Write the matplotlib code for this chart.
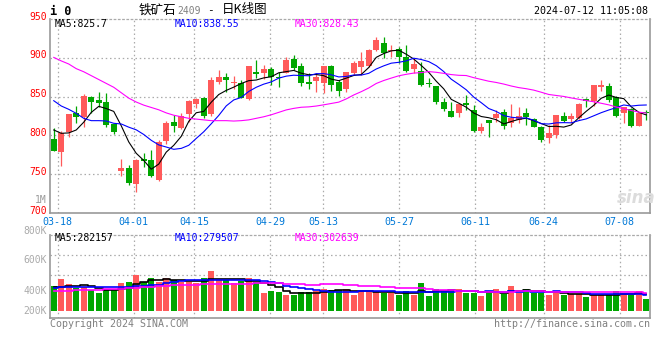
import numpy as np
import pandas as pd
import matplotlib
matplotlib.use("Agg")
import matplotlib.pyplot as plt
from matplotlib.transforms import blended_transform_factory, offset_copy

# ---------------- data ----------------
opens = [795.4, 779.2, 804.9, 829.3, 824.2, 849.9, 845.6, 843.0, 814.3, 753.5,
         758.6, 737.2, 770.2, 768.4, 742.7, 793.3, 817.3, 810.0, 827.6, 840.4,
         848.2, 828.0, 868.3, 875.0, 867.5, 867.9, 846.9, 882.0, 880.7, 885.0,
         874.9, 880.7, 898.3, 889.3, 868.7, 870.4, 867.0, 889.3, 869.1, 859.7,
         879.9, 888.4, 889.3, 909.9, 919.7, 909.4, 910.7, 901.3, 885.4, 883.3,
         867.9, 863.6, 843.4, 831.4, 829.3, 842.2, 832.7, 806.2, 819.9, 822.0,
         830.6, 815.6, 819.9, 829.3, 820.7, 811.3, 796.3, 800.6, 825.0, 820.7,
         822.0, 846.4, 844.3, 862.7, 863.6, 849.9, 828.4, 833.6, 812.2, 830.6]
closes = [780.4, 802.7, 827.6, 823.3, 851.2, 843.4, 841.7, 813.4, 804.9, 758.6,
          739.3, 768.4, 767.6, 748.3, 791.6, 816.4, 812.2, 825.4, 844.7, 847.3,
          825.0, 871.3, 875.1, 871.3, 868.3, 848.6, 889.3, 879.4, 885.0, 875.6,
          874.0, 897.0, 887.1, 867.0, 865.7, 875.6, 889.3, 864.9, 857.2, 882.0,
          892.7, 895.7, 909.9, 922.7, 906.4, 910.0, 900.4, 883.3, 891.9, 864.9,
          865.7, 843.4, 834.0, 824.2, 840.4, 839.6, 806.2, 811.3, 816.4, 827.6,
          812.2, 822.0, 825.0, 824.2, 811.3, 794.2, 802.7, 826.3, 819.0, 825.0,
          840.4, 844.7, 864.9, 864.4, 845.6, 825.0, 837.0, 812.2, 829.3, 828.4]
highs = [809.2, 805.7, 828.0, 837.9, 853.3, 851.0, 855.9, 855.0, 815.0, 769.7,
         762.0, 769.0, 777.0, 781.3, 794.0, 819.0, 826.3, 828.4, 845.0, 848.6,
         849.0, 875.6, 884.1, 879.9, 876.4, 871.0, 889.5, 897.0, 890.6, 888.4,
         882.0, 900.4, 903.4, 893.6, 880.7, 880.7, 889.3, 890.6, 871.3, 882.0,
         895.7, 906.9, 910.7, 927.0, 927.0, 917.1, 914.1, 916.3, 899.1, 894.9,
         873.4, 864.0, 847.7, 843.4, 841.3, 852.0, 839.1, 815.6, 820.0, 832.7,
         833.6, 840.4, 836.2, 834.9, 822.0, 811.5, 813.4, 826.3, 830.6, 828.4,
         841.3, 847.7, 865.0, 871.3, 867.9, 850.7, 837.0, 834.9, 829.3, 832.7]
lows = [780.0, 760.7, 797.6, 815.6, 811.3, 828.4, 837.0, 811.0, 801.4, 747.9,
        736.3, 726.5, 759.9, 747.0, 740.6, 789.0, 804.9, 808.7, 817.7, 835.0,
        822.0, 825.0, 866.2, 856.3, 859.3, 847.7, 845.6, 873.4, 872.1, 864.9,
        862.7, 880.0, 884.0, 863.6, 859.3, 856.3, 855.0, 857.2, 851.2, 856.3,
        877.7, 877.7, 888.4, 909.0, 899.1, 900.4, 892.7, 882.0, 879.9, 863.6,
        861.9, 840.4, 831.4, 824.0, 824.2, 832.7, 805.0, 802.7, 797.6, 817.7,
        808.3, 811.3, 815.6, 813.4, 810.4, 792.0, 790.7, 796.3, 817.7, 815.6,
        820.7, 837.0, 837.9, 857.6, 843.4, 823.3, 816.4, 811.3, 812.0, 819.9]
volumes = [414400, 532000, 448000, 392000, 403200, 347200, 302400, 347200, 358400, 470400,
           487200, 599200, 487200, 554400, 487200, 554400, 515200, 487200, 487200, 470400,
           554400, 666400, 515200, 515200, 470400, 504000, 554400, 487200, 302400, 330400,
           319200, 263200, 274400, 319200, 319200, 336000, 375200, 347200, 347200, 375200,
           263200, 330400, 330400, 330400, 308000, 308000, 263200, 330400, 274400, 470400,
           252000, 364000, 330400, 330400, 364000, 308000, 308000, 252000, 330400, 364000,
           291200, 414400, 308000, 364000, 308000, 308000, 274400, 330400, 263200, 291200,
           291200, 235200, 263200, 263200, 291200, 330400, 291200, 274400, 330400, 196000]

# moving-average values at the left edge (their earlier inputs are off-chart)
ma5_head = [807.0, 802.7, 803.2, 807.0]
ma10_head = [844.7, 837.9, 833.6, 828.4, 822.0, 819.0, 819.0, 818.6, 815.6]
ma30_head = [900.5, 896.0, 892.0, 886.0, 882.0, 877.0, 872.0, 867.0, 862.0, 855.0,
             848.0, 843.0, 839.0, 836.0, 833.0, 829.0, 826.0, 824.0, 822.0, 821.0,
             820.0, 819.0, 819.0, 819.0, 818.5, 819.0, 820.0, 822.0, 824.0]
vma5_head = [405000, 410000, 415000, 420000]
vma10_head = [392000, 396000, 400000, 404000, 408000, 410000, 408000, 405000, 402000]
vma30_head = [336000, 338000, 341000, 345000, 349000, 353000, 358000, 362000, 367000, 372000,
              382000, 392000, 400000, 410000, 420000, 428000, 433000, 437000, 440000, 443000,
              446000, 448000, 450000, 452000, 454000, 457000, 460000, 463000, 466000]

date_labels = ["03-18", "04-01", "04-15", "04-29", "05-13", "05-27", "06-11", "06-24", "07-08"]
date_index = [1, 11, 19, 29, 36, 46, 56, 65, 75]

price_ticks = [950, 900, 850, 800, 750, 700]
price_grid = [900, 850, 800, 750]

title_main = "铁矿石"
title_code = "2409"
title_kind = "日K线图"
symbol = "i 0"
timestamp = "2024-07-12 11:05:08"
ma_texts = ["MA5:825.7", "MA10:838.55", "MA30:828.43"]
vma_texts = ["MA5:282157", "MA10:279507", "MA30:302639"]
vol_labels = ["800K", "600K", "400K", "200K"]

# ---------------- styling / layout ----------------
W, H = 660, 360
RED = "#ff5a5a"
GREEN = "#00a600"
MA_COLORS = ["#000000", "#0000ff", "#ff00ff"]
GRID = "#aaaaaa"
SPINE = "#999999"
MONO = "DejaVu Sans Mono"
CJK = ["Noto Sans CJK SC", "DejaVu Sans"]
DOT = (0, (1.2, 2.2))

plt.rcParams["font.family"] = [MONO, "DejaVu Sans"]

def fx(x):
    return x / W

def fy(y):
    return 1 - y / H

fig = plt.figure(figsize=(W / 100, H / 100), dpi=100)
fig.patch.set_facecolor("white")

ax = fig.add_axes([fx(50), fy(213), 600 / W, (213 - 19) / H])
axv = fig.add_axes([fx(50), fy(318), 600 / W, (318 - 235) / H])

n = len(closes)
x = np.arange(n) + 0.5
o = np.array(opens); c = np.array(closes)
hi = np.array(highs); lo = np.array(lows)
up = c >= o
cols = np.where(up, RED, GREEN)

def with_head(series, win, head):
    m = pd.Series(series, dtype=float).rolling(win).mean().to_numpy()
    m[:len(head)] = head
    return m

ma5 = with_head(closes, 5, ma5_head)
ma10 = with_head(closes, 10, ma10_head)
ma30 = with_head(closes, 30, ma30_head)
vma5 = with_head(volumes, 5, vma5_head)
vma10 = with_head(volumes, 10, vma10_head)
vma30 = with_head(volumes, 30, vma30_head)

tick_pos = [i * n / (n - 1) for i in date_index]

for a in (ax, axv):
    a.set_xlim(0, n)
    a.set_xticks([]); a.set_yticks([])
    for s in ("left", "bottom", "right"):
        a.spines[s].set_color(SPINE)
        a.spines[s].set_linewidth(1.2)
    a.spines["top"].set_color(GRID)
    a.spines["top"].set_linestyle(DOT)
    a.spines["top"].set_linewidth(0.9)
    for t in tick_pos:
        a.axvline(t, color=GRID, lw=0.9, ls=DOT, zorder=0)

# ---- price panel ----
ax.set_ylim(700, 950)
for g in price_grid:
    ax.axhline(g, color=GRID, lw=0.9, ls=DOT, zorder=0)

body_bot = np.minimum(o, c)
body_h = np.maximum(np.abs(c - o), 0.9)
ax.vlines(x, lo, hi, colors=cols, lw=0.9, zorder=2)
ax.bar(x, body_h, bottom=body_bot, width=0.76, color=cols, linewidth=0, zorder=3)

for m, col in zip((ma5, ma10, ma30), MA_COLORS):
    ax.plot(x, m, color=col, lw=0.8, zorder=4)

ytr = offset_copy(blended_transform_factory(fig.transFigure, ax.transData), fig=fig, x=0, y=2.5, units="dots")
for v in price_ticks:
    fig.text(fx(46.5), v, str(v), transform=ytr, ha="right", va="center",
             color="#ff0000", fontsize=7, family=MONO)
fig.text(fx(46.5), fy(200), "1M", ha="right", va="center", color="#999999", fontsize=7, family=MONO)

# watermark
fig.text(fx(636), fy(198), "sina", ha="center", va="center", color="#dcdcdc",
         fontsize=12, fontweight="bold", style="italic", family="DejaVu Sans")

# ---- volume panel ----
PX = 16800  # volume units per pixel
axv.set_ylim(-7 * PX, 76 * PX)
for g in (605000, 940000):
    axv.axhline(g, color=GRID, lw=0.9, ls=DOT, zorder=0)
axv.bar(x, volumes, width=0.8, color=cols, linewidth=0, zorder=2)
for m, col in zip((vma5, vma10, vma30), MA_COLORS):
    axv.plot(x, m, color=col, lw=1.2, drawstyle="steps-mid", zorder=3)

for lab, yy in zip(vol_labels, (231, 260, 291, 311)):
    fig.text(fx(46.5), fy(yy), lab, ha="right", va="center", color="#aaaaaa", fontsize=7, family=MONO)

# ---- texts ----
fig.text(fx(50), fy(11.5), symbol, ha="left", va="center", fontsize=8.5, fontweight="bold", family=MONO)
fig.text(fx(139), fy(10), title_main, ha="left", va="center", fontsize=9, family=CJK)
fig.text(fx(177), fy(10.5), title_code, ha="left", va="center", fontsize=7, color="#808080", family=MONO)
fig.text(fx(207), fy(10), "-", ha="left", va="center", fontsize=8, family=MONO)
fig.text(fx(222), fy(10), title_kind, ha="left", va="center", fontsize=9, family=CJK)
fig.text(fx(648), fy(11.5), timestamp, ha="right", va="center", fontsize=7.2, family=MONO)

for t, xx, col in zip(ma_texts, (55, 175, 295), MA_COLORS):
    fig.text(fx(xx), fy(23.7), t, ha="left", va="center", fontsize=7, color=col, family=MONO)
for t, xx, col in zip(vma_texts, (55, 175, 295), MA_COLORS):
    fig.text(fx(xx), fy(238), t, ha="left", va="center", fontsize=7, color=col, family=MONO)

xtr = blended_transform_factory(ax.transData, fig.transFigure)
for lab, p in zip(date_labels, tick_pos):
    fig.text(p, fy(222), lab, transform=xtr, ha="center", va="center",
             color="#0078d7", fontsize=7.2, family=MONO)

fig.text(fx(50), fy(324), "Copyright 2024 SINA.COM", ha="left", va="center",
         color="#808080", fontsize=7.2, family=MONO)
fig.text(fx(650), fy(324), "http://finance.sina.com.cn", ha="right", va="center",
         color="#808080", fontsize=7.2, family=MONO)

fig.savefig("out.png", dpi=100, facecolor="white")
